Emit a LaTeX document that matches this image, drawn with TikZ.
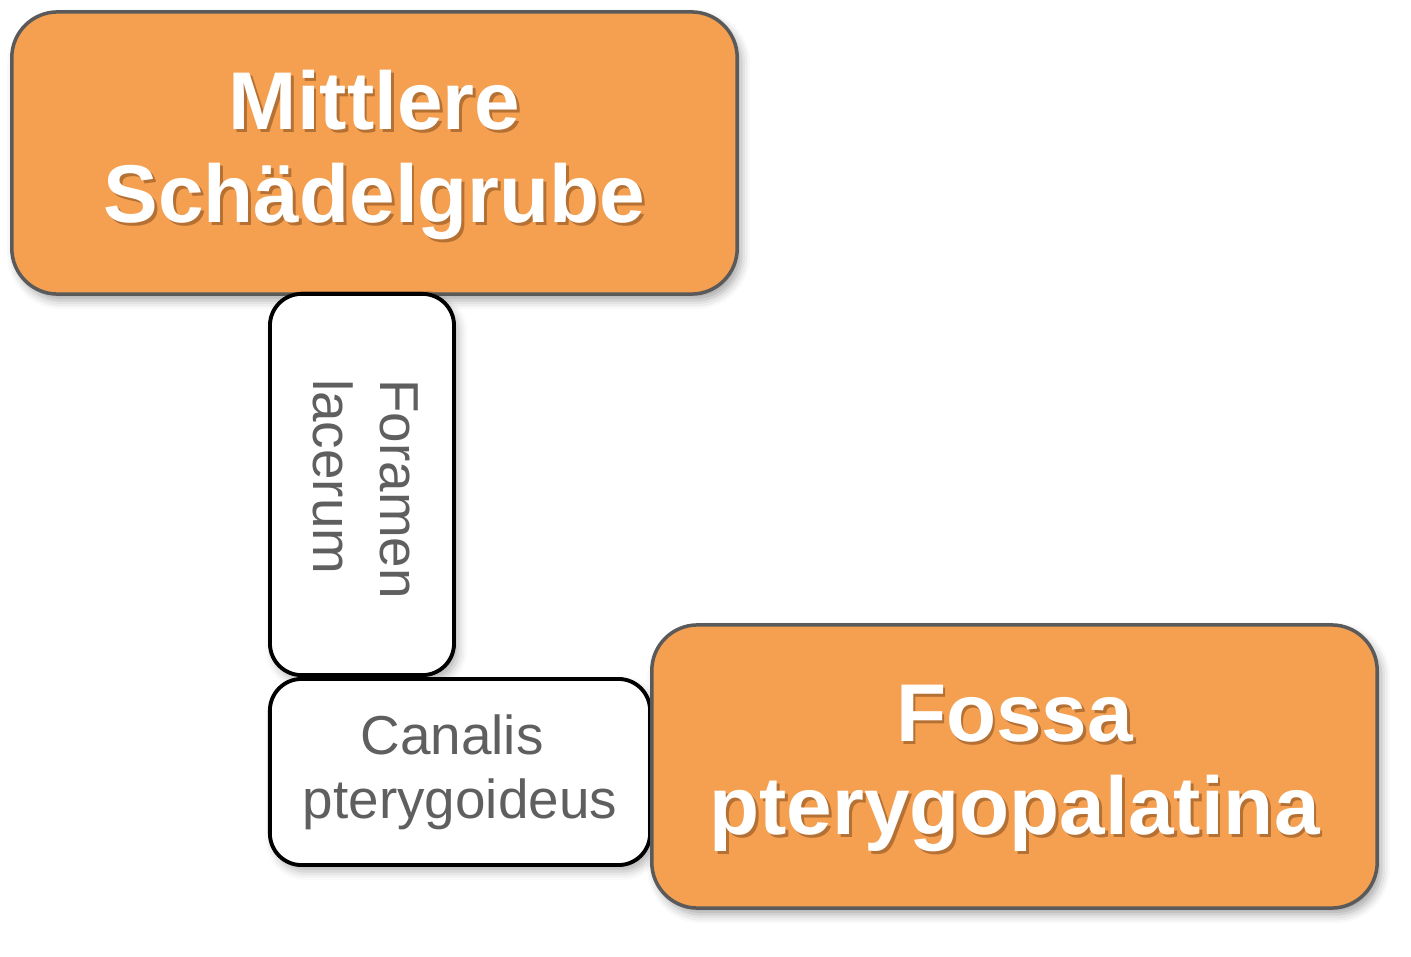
\documentclass[tikz,border=0pt]{standalone}
\usepackage{fontspec}
\setmainfont{Liberation Sans}
\usetikzlibrary{shadows.blur}
\definecolor{boxorange}{RGB}{245,160,80}
\definecolor{rimgray}{RGB}{90,90,90}
\definecolor{labelgray}{RGB}{95,95,95}
\definecolor{textshade}{RGB}{165,100,45}
\newcommand{\shadetext}[1]{\makebox[0pt][l]{\raisebox{-0.9pt}{\hspace{0.8pt}\textcolor{textshade!80!boxorange}{#1}}}#1}

\begin{document}
\begin{tikzpicture}[x=0.01cm,y=-0.01cm,
  regionbox/.style={draw=rimgray,line width=1pt,fill=boxorange,rounded corners=13pt,
    inner sep=0pt,
    blur shadow={shadow xshift=1.2pt,shadow yshift=-1.8pt,shadow blur radius=2.5pt,shadow opacity=35}},
  regiontext/.style={text=white,align=center,inner sep=0pt,
    font=\fontsize{23.3}{26.5}\selectfont\bfseries},
  passbox/.style={draw=black,line width=1.1pt,fill=white,rounded corners=9pt,inner sep=0pt,
    blur shadow={shadow xshift=1.2pt,shadow yshift=-1.8pt,shadow blur radius=2.5pt,shadow opacity=30}},
  passtext/.style={text=labelgray,inner sep=0pt,font=\fontsize{15.6}{18.2}\selectfont}]
\useasboundingbox (0,0) rectangle (1411,957);
% orange regions and white passages
\node[regionbox,minimum width=7.25cm,minimum height=2.82cm] (schaedel) at (374.5,153) {};
\node[passbox,minimum width=1.84cm,minimum height=3.81cm] (foramen) at (362,484.5) {};
\node[passbox,minimum width=3.8cm,minimum height=1.86cm] (canalis) at (460,772) {};
\node[regionbox,minimum width=7.25cm,minimum height=2.83cm] (fossa) at (1014.5,766.5) {};
% labels
\node[regiontext] (schaedel-text) at ([yshift=-1pt]schaedel.center)
  {\shadetext{Mittlere}\\\shadetext{Schädelgrube}};
\node[passtext,rotate=-90,align=left,font=\fontsize{15.6}{19}\selectfont] (foramen-text)
  at (365.5,489) {Foramen\\lacerum};
\node[passtext,align=center] (canalis-text) at (canalis.center) {Canalis\kern4.5pt\\pterygoideus};
\node[regiontext] (fossa-text) at ([yshift=-1pt]fossa.center)
  {\shadetext{Fossa}\\\shadetext{pterygopalatina}};
\end{tikzpicture}
\end{document}
